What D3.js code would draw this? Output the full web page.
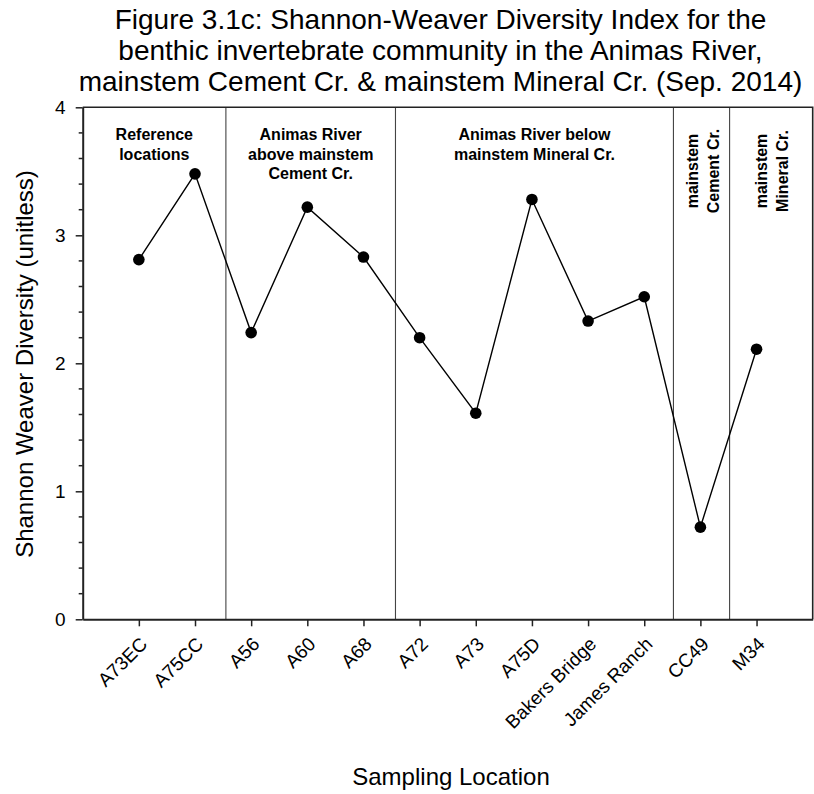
<!DOCTYPE html>
<html><head><meta charset="utf-8">
<script src="https://cdn.jsdelivr.net/npm/d3@7"></script>
<style>body{margin:0;background:#fff} svg{display:block} text{font-family:"Liberation Sans",Arial,sans-serif;fill:#000}</style>
</head><body><svg id="c" width="814" height="794"></svg>
<script>
const categories = ["A73EC","A75CC","A56","A60","A68","A72","A73","A75D","Bakers Bridge","James Ranch","CC49","M34"];
const diversity = [2.81,3.48,2.24,3.22,2.83,2.20,1.61,3.28,2.33,2.52,0.72,2.11];
const yTicks = [0,1,2,3,4];
const yMinorTicks = [0.2,0.4,0.6,0.8,1.2,1.4,1.6,1.8,2.2,2.4,2.6,2.8,3.2,3.4,3.6,3.8];
const dividers = [2.55,5.57,10.52,11.52];
const groupLabels = [["Reference","locations"],["Animas River","above mainstem","Cement Cr."],["Animas River below","mainstem Mineral Cr."],["mainstem","Cement Cr."],["mainstem","Mineral Cr."]];
const groupVertical = [false,false,false,true,true];
const titleLines = ["Figure 3.1c: Shannon-Weaver Diversity Index for the","benthic invertebrate community in the Animas River,","mainstem Cement Cr. & mainstem Mineral Cr. (Sep. 2014)"];

const svg = d3.select("#c");
const L = 82.7, R = 812.7, T = 107.3, B = 619.3;
const x = d3.scaleLinear().domain([0, categories.length + 1]).range([L, R]);
const y = d3.scaleLinear().domain([0, 4]).range([B, T]);

// title
svg.append("g").selectAll("text").data(titleLines).join("text")
  .attr("x", 440.5).attr("y", (d,i) => 29 + i*31)
  .attr("text-anchor","middle").attr("font-size",28).text(d => d);

// dividers
svg.append("g").selectAll("line").data(dividers).join("line")
  .attr("x1", d => x(d)).attr("x2", d => x(d)).attr("y1", T).attr("y2", B)
  .attr("stroke","#444").attr("stroke-width",1.1);

// frame top/right
svg.append("path").attr("d", `M${L},${T}H${R}V${B}`).attr("fill","none").attr("stroke","#222").attr("stroke-width",1.6);

// y axis
const yAxis = svg.append("g").attr("transform",`translate(${L},0)`)
  .call(d3.axisLeft(y).tickValues(yTicks).tickFormat(d3.format("d")).tickSize(7).tickPadding(10).tickSizeOuter(0));
yAxis.select(".domain").attr("stroke","#222").attr("stroke-width",2);
yAxis.selectAll(".tick line").attr("stroke","#222").attr("stroke-width",1.5);
yAxis.selectAll("text").attr("font-size",19).attr("font-family",null);
svg.append("g").selectAll("line").data(yMinorTicks).join("line")
  .attr("x1", L-4).attr("x2", L).attr("y1", d => y(d)).attr("y2", d => y(d))
  .attr("stroke","#222").attr("stroke-width",1.5);

// x axis
const xAxis = svg.append("g").attr("transform",`translate(0,${B})`)
  .call(d3.axisBottom(x).tickValues(d3.range(1, categories.length+1)).tickFormat(i => categories[i-1]).tickSize(7).tickSizeOuter(0));
xAxis.select(".domain").attr("stroke","#222").attr("stroke-width",2);
xAxis.selectAll(".tick line").attr("stroke","#222").attr("stroke-width",1.5);
xAxis.selectAll("text").attr("font-size",19).attr("font-family",null)
  .attr("text-anchor","end").attr("dy",null).attr("y",0)
  .attr("transform","translate(9,26) rotate(-45)");

// group labels
groupLabels.forEach((lines, gi) => {
  const lo = gi === 0 ? 0 : dividers[gi-1];
  const hi = gi < dividers.length ? dividers[gi] : categories.length + 1;
  const cx = x((lo + hi) / 2);
  const t = svg.append("text").attr("font-size",16).attr("font-weight","bold").attr("text-anchor","middle");
  if (groupVertical[gi]) {
    t.attr("transform",`translate(${cx},171) rotate(-90)`);
    t.selectAll("tspan").data(lines).join("tspan").attr("x",0).attr("y",(d,i)=> -4 + i*21).text(d=>d);
  } else {
    t.selectAll("tspan").data(lines).join("tspan").attr("x",cx).attr("y",(d,i)=> 140 + i*19.7).text(d=>d);
  }
});

// line + points
const pts = diversity.map((v,i) => [i+1, v]);
svg.append("path").datum(pts).attr("fill","none").attr("stroke","#000").attr("stroke-width",1.4)
  .attr("d", d3.line().x(d => x(d[0])).y(d => y(d[1])));
svg.append("g").selectAll("circle").data(pts).join("circle")
  .attr("cx", d => x(d[0])).attr("cy", d => y(d[1])).attr("r",5.8).attr("fill","#000");

// axis titles
svg.append("text").attr("transform","translate(33,364) rotate(-90)").attr("text-anchor","middle").attr("font-size",24).text("Shannon Weaver Diversity (unitless)");
svg.append("text").attr("x",451).attr("y",785).attr("text-anchor","middle").attr("font-size",24).text("Sampling Location");
</script></body></html>
